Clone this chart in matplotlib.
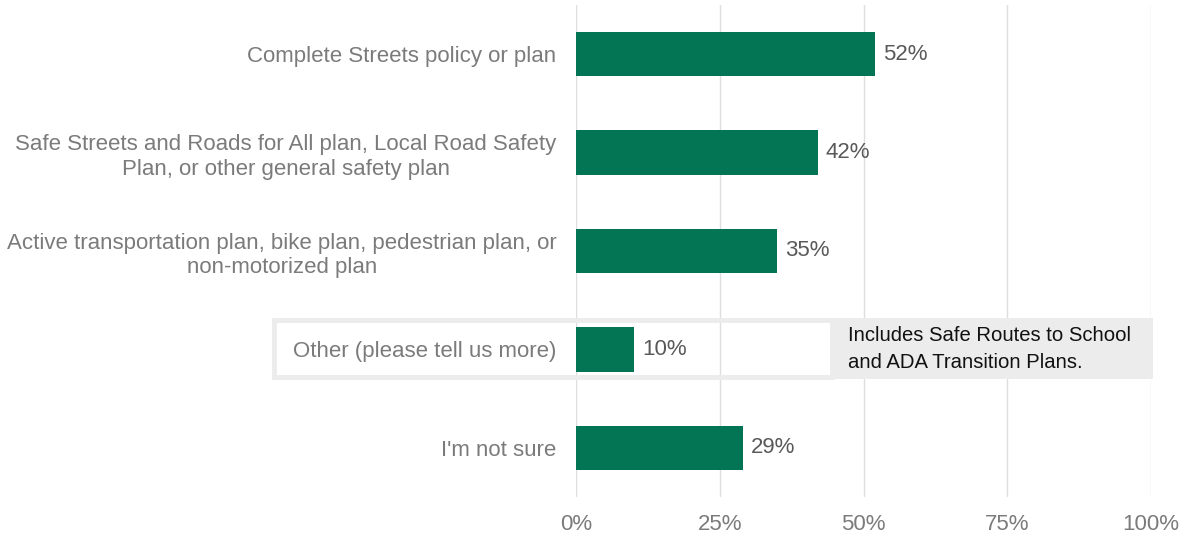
import matplotlib.pyplot as plt
from matplotlib.patches import Rectangle

plt.rcParams['font.family'] = ['Liberation Sans', 'DejaVu Sans']

categories = [
    "Complete Streets policy or plan",
    "Safe Streets and Roads for All plan, Local Road Safety\nPlan, or other general safety plan",
    "Active transportation plan, bike plan, pedestrian plan, or\nnon-motorized plan",
    "Other (please tell us more)",
    "I'm not sure",
]
values = [52, 42, 35, 10, 29]
xticks = [0, 25, 50, 75, 100]
xtick_labels = ["0%", "25%", "50%", "75%", "100%"]
note_text = "Includes Safe Routes to School\nand ADA Transition Plans."

bar_color = "#037555"
label_color = "#7b7b7b"
value_color = "#595959"
grid_color = "#dedede"

fig = plt.figure(figsize=(11.84, 5.35), dpi=100)
ax = fig.add_axes([576 / 1184, 1 - 497 / 535, 575 / 1184, 492 / 535])

y = list(range(len(categories)))
ax.barh(y, values, height=0.45, color=bar_color, zorder=3)
ax.set_ylim(len(categories) - 0.5, -0.5)
ax.set_xlim(0, 100)

ax.set_xticks(xticks)
ax.set_xticklabels(xtick_labels, fontsize=16, color=label_color)
ax.set_yticks(y)
ax.set_yticklabels(categories, fontsize=16, color=label_color, linespacing=1.22)
for t in ax.get_yticklabels():
    t.set_multialignment('center')
ax.tick_params(axis='both', length=0)
ax.tick_params(axis='y', pad=14)
ax.tick_params(axis='x', pad=12)
ax.xaxis.grid(True, color=grid_color, linewidth=1.0, zorder=0)
for s in ax.spines.values():
    s.set_visible(False)

for yi, v in zip(y, values):
    ax.annotate(f"{v}%", (v, yi), xytext=(6, 0), textcoords='offset points',
                va='center', ha='left', fontsize=16, color=value_color)

# highlight box around the "Other" row and the note
def px(x0, y0):
    return (x0 / 1184, 1 - y0 / 535)

x0, y0 = px(274, 377)
x1, y1 = px(832, 320)
fig.patches.append(Rectangle((x0, y0), x1 - x0, y1 - y0, transform=fig.transFigure,
                             facecolor='none', edgecolor='#ececec', linewidth=3.5, zorder=5))
nx0, ny0 = px(834, 379)
nx1, ny1 = px(1153, 318)
fig.patches.append(Rectangle((nx0, ny0), nx1 - nx0, ny1 - ny0, transform=fig.transFigure,
                             facecolor='#ececec', edgecolor='none', zorder=5))
fig.text(848 / 1184, 1 - 349 / 535, note_text, fontsize=14.6, color='#111111',
         va='center', ha='left', linespacing=1.5, zorder=6)

fig.savefig("out.png", dpi=100)
